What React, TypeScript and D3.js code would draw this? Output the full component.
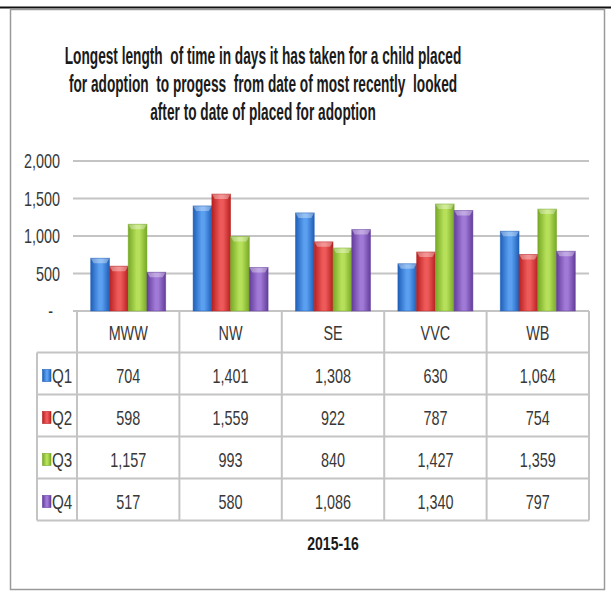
import React from 'react';
import * as d3 from 'd3';

const categories = ['MWW', 'NW', 'SE', 'VVC', 'WB'];
const seriesNames = ['Q1', 'Q2', 'Q3', 'Q4'];
const q1 = [704, 1401, 1308, 630, 1064];
const q2 = [598, 1559, 922, 787, 754];
const q3 = [1157, 993, 840, 1427, 1359];
const q4 = [517, 580, 1086, 1340, 797];
const yTicks = [0, 500, 1000, 1500, 2000];
const titleLines = [
  'Longest length  of time in days it has taken for a child placed',
  'for adoption  to progess  from date of most recently  looked',
  'after to date of placed for adoption',
];
const xTitle = '2015-16';

// colour sets: [edge, centre] for each quarter
const seriesColors = [
  ['#1f5fb8', '#5a9ff0'],
  ['#b82020', '#ee5a5a'],
  ['#77a826', '#b6e05a'],
  ['#643d9c', '#a07ad6'],
];

const W = 611;
const H = 592;
const font = "'Liberation Sans', Arial, sans-serif";

// narrow text: the reference uses a condensed face, so squeeze horizontally
function Txt({ x, y, sx = 0.72, anchor = 'middle', size = 20, bold = false, fill = '#383838', children }: any) {
  return (
    <text transform={`translate(${x},${y}) scale(${sx},1)`} textAnchor={anchor} dy="0.35em"
      fontFamily={font} fontSize={size} fontWeight={bold ? 'bold' : 'normal'} fill={fill}
      style={{ whiteSpace: 'pre' }}>
      {children}
    </text>
  );
}

export default function App() {
  const values = [q1, q2, q3, q4];

  const y = d3.scaleLinear().domain([0, 2000]).range([311, 161]);
  const x = d3.scaleBand<string>().domain(categories).range([77, 589]).padding(0);
  const xs = d3.scaleBand<string>().domain(seriesNames).range([0, x.bandwidth()])
    .paddingInner(0).paddingOuter(0.73);
  const fmt = d3.format(',');

  const rowTop = 311;
  const headerH = 41.5;
  const rowH = 42;
  const tableLeft = 37;
  const tableRight = 589;
  const tableBottom = rowTop + headerH + rowH * 4;

  return (
    <svg width={W} height={H} style={{ position: 'absolute', left: 0, top: 0 }}>
      <defs>
        {seriesColors.map((c, i) => (
          <linearGradient key={i} id={`g${i}`} x1="0" x2="1" y1="0" y2="0">
            <stop offset="0" stopColor={c[0]} />
            <stop offset="0.45" stopColor={c[1]} />
            <stop offset="0.6" stopColor={c[1]} />
            <stop offset="1" stopColor={c[0]} />
          </linearGradient>
        ))}
      </defs>
      <rect x={0} y={0} width={W} height={H} fill="#fff" />
      {/* frame */}
      <line x1={0} x2={W} y1={7.5} y2={7.5} stroke="#111" strokeWidth={2} />
      <rect x={10.5} y={9.5} width={594} height={580} fill="none" stroke="#9a9a9a" strokeWidth={1.5} />

      {/* title */}
      {titleLines.map((t, i) => (
        <Txt key={i} x={263} y={56 + i * 28} sx={0.595} size={23} bold fill="#1a1a1a">{t}</Txt>
      ))}

      {/* gridlines */}
      <g>
        {yTicks.map(t => (
          <line key={t} x1={73} x2={589} y1={y(t)} y2={y(t)} stroke="#c4c4c4" strokeWidth={2} />
        ))}
      </g>
      {yTicks.map(t => (
        <Txt key={t} x={t === 0 ? 53 : 60} y={y(t)} anchor="end">{t === 0 ? '-' : fmt(t)}</Txt>
      ))}

      {/* bars */}
      {values.map((vals, si) => (
        <g key={si}>
          {vals.map((v, ci) => {
            const bx = (x(categories[ci]) ?? 0) + (xs(seriesNames[si]) ?? 0);
            const bw = xs.bandwidth();
            const top = y(v);
            const bh = y(0) - top;
            const bev = 5;
            return (
              <g key={ci}>
                <rect x={bx} y={top} width={bw} height={bh} fill={`url(#g${si})`} />
                <path d={`M${bx},${top}L${bx + bw},${top}L${bx + bw - 3},${top + bev}L${bx + 3},${top + bev}Z`}
                  fill="#fff" fillOpacity={0.35} />
                <rect x={bx} y={top} width={bw} height={bh} fill="none" stroke={seriesColors[si][0]} strokeOpacity={0.6} strokeWidth={0.8} />
              </g>
            );
          })}
        </g>
      ))}

      {/* data table */}
      <g stroke="#c4c4c4" strokeWidth={2}>
        {[0, 1, 2, 3, 4].map(i => (
          <line key={i} x1={tableLeft} x2={tableRight}
            y1={rowTop + headerH + i * rowH} y2={rowTop + headerH + i * rowH} />
        ))}
        <line x1={tableLeft} x2={tableLeft} y1={rowTop + headerH} y2={tableBottom} />
        {categories.map(c => (
          <line key={c} x1={x(c)} x2={x(c)} y1={rowTop} y2={tableBottom} />
        ))}
        <line x1={tableRight} x2={tableRight} y1={rowTop} y2={tableBottom} />
      </g>
      {categories.map(c => (
        <Txt key={c} x={(x(c) ?? 0) + x.bandwidth() / 2} y={rowTop + headerH / 2 + 1}>{c}</Txt>
      ))}
      {values.map((vals, si) => vals.map((v, ci) => (
        <Txt key={`${si}-${ci}`} x={(x(categories[ci]) ?? 0) + x.bandwidth() / 2}
          y={rowTop + headerH + si * rowH + rowH / 2 + 2}>{fmt(v)}</Txt>
      )))}
      {seriesNames.map((s, si) => {
        const cy = rowTop + headerH + si * rowH + rowH / 2 + 2;
        return (
          <g key={s}>
            <rect x={42.5} y={cy - 6} width={8.5} height={12} fill={`url(#g${si})`} stroke={seriesColors[si][0]} strokeWidth={0.6} />
            <Txt x={52} y={cy} anchor="start" sx={0.76}>{s}</Txt>
          </g>
        );
      })}

      <Txt x={333} y={543.5} size={18.5} sx={0.76} bold fill="#1a1a1a">{xTitle}</Txt>
    </svg>
  );
}
